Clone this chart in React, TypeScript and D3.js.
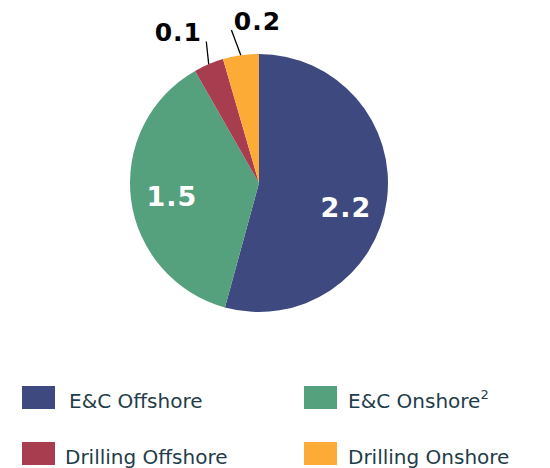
import React from "react";
import * as d3 from "d3";

const categories = ["E&C Offshore", "E&C Onshore", "Drilling Offshore", "Drilling Onshore"];
const values = [2.17, 1.5, 0.15, 0.18];
const valueLabels = ["2.2", "1.5", "0.1", "0.2"];
const colors = ["#3E4A7F", "#55A07D", "#A93D50", "#FDAB37"];
const superscripts = ["", "2", "", ""];

const W = 550;
const H = 468;
const cx = 259;
const cy = 183;
const R = 129;
const FONT = "'DejaVu Sans', Verdana, sans-serif";

export default function App() {
  const pie = d3.pie<number>().sort(null).value((d) => d)(values);
  const arc = d3.arc<d3.PieArcDatum<number>>().innerRadius(0).outerRadius(R);
  const pt = (a: number, r: number) => [Math.sin(a) * r, -Math.cos(a) * r];
  const insideDy = [13, 2, 0, 0];

  const legendCols = [22, 304];
  const legendRows = [386, 442];
  const textX = [69, 348, 65, 348];

  return (
    <svg width={W} height={H} style={{ position: "absolute", left: 0, top: 0, background: "#fff" }}>
      <g transform={`translate(${cx},${cy})`}>
        {pie.map((p, i) => (
          <path key={i} d={arc(p) || ""} fill={colors[i]} />
        ))}
        {pie.map((p, i) => {
          const mid = (p.startAngle + p.endAngle) / 2;
          const big = p.endAngle - p.startAngle > 0.5;
          if (big) {
            const [x, y] = pt(mid, R * 0.68);
            return (
              <text
                key={"l" + i}
                x={x}
                y={y + insideDy[i]}
                textAnchor="middle"
                dominantBaseline="central"
                fill="#fff"
                fontFamily={FONT}
                fontWeight="bold"
                fontSize={27}
                letterSpacing={1}
              >
                {valueLabels[i]}
              </text>
            );
          }
          const [x0, y0] = pt(mid, R);
          const lineEnd = i === 2 ? pt(mid + 0.044, 151) : pt(mid - 0.037, 155.5);
          const tx = i === 2 ? lineEnd[0] - 28 : lineEnd[0] + 26;
          const ty = i === 2 ? lineEnd[1] - 0.5 : lineEnd[1];
          return (
            <g key={"l" + i}>
              <line x1={x0} y1={y0} x2={lineEnd[0]} y2={lineEnd[1]} stroke="#000" strokeWidth={1.3} />
              <text
                x={tx}
                y={ty}
                textAnchor="middle"
                fill="#000"
                fontFamily={FONT}
                fontWeight="bold"
                fontSize={25}
                letterSpacing={1}
              >
                {valueLabels[i]}
              </text>
            </g>
          );
        })}
      </g>
      {categories.map((c, i) => {
        const col = i % 2;
        const row = Math.floor(i / 2);
        return (
          <g key={"lg" + i}>
            <rect x={legendCols[col]} y={legendRows[row]} width={33} height={23} fill={colors[i]} />
            <text
              x={textX[i]}
              y={legendRows[row] + 21.5}
              fill="#1F3D4A"
              fontFamily={FONT}
              fontSize={20}
            >
              {c}
              {superscripts[i] && (
                <tspan fontSize={13} dy={-9}>
                  {superscripts[i]}
                </tspan>
              )}
            </text>
          </g>
        );
      })}
    </svg>
  );
}
